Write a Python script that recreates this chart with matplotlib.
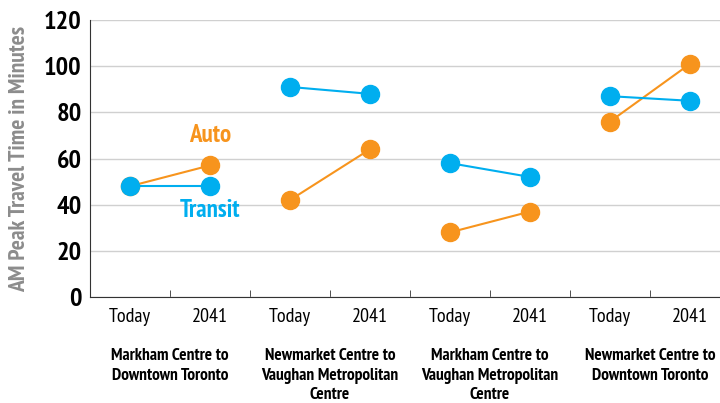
import matplotlib
matplotlib.use("Agg")
import matplotlib.pyplot as plt
import numpy as np

# chart values
periods = ["Today", "2041"]
routes = ["Markham Centre to\nDowntown Toronto",
          "Newmarket Centre to\nVaughan Metropolitan\nCentre",
          "Markham Centre to\nVaughan Metropolitan\nCentre",
          "Newmarket Centre to\nDowntown Toronto"]
transit = [[48, 48], [91, 88], [58, 52], [87, 85]]
auto = [[48, 57], [42, 64], [28, 37], [76, 101]]

plt.rcParams["font.family"] = ["PT Sans Narrow", "DejaVu Sans"]

c_transit = "#00aeef"
c_auto = "#f7941d"

fig = plt.figure(figsize=(7.2, 4.03), dpi=100)
ax = fig.add_axes([90 / 720, 1 - 297 / 403, 640 / 720, 277 / 403])

for i in range(len(routes)):
    x = [2 * i, 2 * i + 1]
    ax.plot(x, auto[i], "-o", color=c_auto, lw=1.5, ms=13, zorder=3)
    ax.plot(x, transit[i], "-o", color=c_transit, lw=1.5, ms=13, zorder=4)

ax.text(1, 70, "Auto", color=c_auto, fontsize=18, fontweight="bold", ha="center", va="center")
ax.text(1, 37.5, "Transit", color=c_transit, fontsize=18, fontweight="bold", ha="center", va="center")

ax.set_ylim(0, 120)
ax.set_xlim(-0.5, 2 * len(routes) - 0.5)
ax.set_yticks(np.arange(0, 121, 20))
ax.set_yticklabels([str(v) for v in range(0, 121, 20)], fontsize=19, fontweight="bold")
ax.yaxis.grid(True, color="#d0d0d0", lw=1)
ax.set_axisbelow(True)
ax.tick_params(axis="y", length=0, pad=6)

ax.set_xticks(np.arange(2 * len(routes)))
ax.set_xticklabels(periods * len(routes), fontsize=14.5)
ax.tick_params(axis="x", which="major", length=0, pad=8)
ax.set_xticks(np.arange(0.5, 2 * len(routes), 1), minor=True)
ax.tick_params(axis="x", which="minor", direction="in", length=5, color="#333333")

for s in ["top", "right"]:
    ax.spines[s].set_visible(False)
for s in ["left", "bottom"]:
    ax.spines[s].set_color("#333333")

for i, r in enumerate(routes):
    ax.text(2 * i + 0.5, -0.185, r, transform=ax.get_xaxis_transform(), ha="center", va="top",
            fontsize=12.5, fontweight="bold", linespacing=1.3)

ax.set_ylabel("AM Peak Travel Time in Minutes", fontsize=17, fontweight="bold", color="#8c8c8c", labelpad=10)

fig.savefig("out.png", dpi=100)
